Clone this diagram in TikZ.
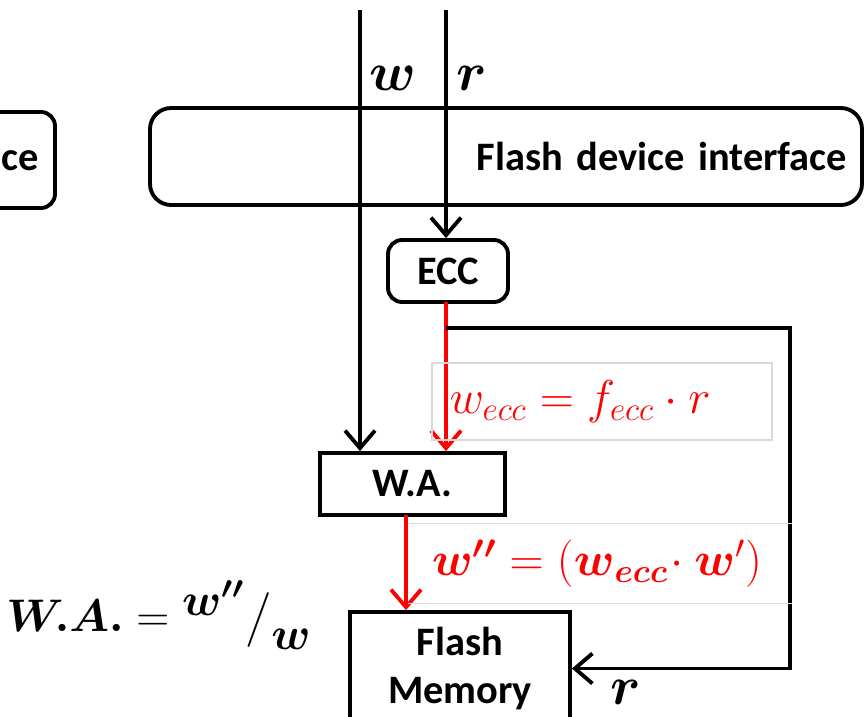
\documentclass[tikz,border=0pt]{standalone}
\usepackage{fix-cm}
\usepackage{amsmath,amssymb}
\usepackage{fontspec}
\setmainfont{Carlito}
\usepackage{tikz}
\usetikzlibrary{arrows.meta,positioning,calc}
\definecolor{ink}{HTML}{000000}
\definecolor{flow}{HTML}{FF0000}
\definecolor{frameline}{HTML}{D9D9D9}
\newcommand{\bw}{\boldsymbol{w}}

\begin{document}
\begin{tikzpicture}[line width=2.2pt,>={Straight Barb[length=3.5mm,width=6mm]},
    font=\fontsize{23}{27}\selectfont\bfseries]
  \tikzset{roundbox/.style={draw=ink,rounded corners=8pt,inner sep=0pt},
           plainbox/.style={draw=ink,inner sep=0pt,align=center},
           mathlabel/.style={font=\fontsize{31}{35}\selectfont,inner sep=0pt},
           eqlabel/.style={font=\fontsize{27}{31}\selectfont,text=flow}}
  \useasboundingbox (0,0) rectangle (17.3,-14.32);

  \draw[roundbox] (-0.8,-2.24) rectangle (1.1,-4.16);
  \node (host) at (0.4,-3.22) {ce};
  \node[roundbox,rounded corners=12pt,minimum width=14.24cm,minimum height=1.94cm,
        text width=13.64cm,align=right] (fdi) at (10.12,-3.13) {Flash device interface};
  \node[roundbox,minimum width=2.4cm,minimum height=1.24cm] (ecc) at (8.96,-5.42) {ECC};
  \node[plainbox,minimum width=3.7cm,minimum height=1.24cm] (wa) at (8.25,-9.68) {W.A.};
  \node[plainbox,minimum width=4.4cm,minimum height=2.26cm] (mem) at (9.2,-13.37)
    {Flash\\[0pt]Memory};

  \coordinate (wtop) at (7.2,-0.2);
  \coordinate (rtop) at (8.92,-0.2);
  \coordinate (eccout) at (8.92,-6.04);
  \coordinate (tap) at (8.92,-6.56);
  \coordinate (waout) at (8.12,-10.3);
  \coordinate (loop) at (15.8,-6.56);

  \node[mathlabel] (wlab) at (7.86,-1.56) {$\bw$};
  \node[mathlabel] (rlab) at (9.44,-1.56) {$\boldsymbol{r}$};

  \draw[->,draw=ink] (wtop) -- (wtop |- wa.north);
  \draw[->,draw=ink] (rtop) -- (rtop |- ecc.north);
  \draw[->,draw=flow] (eccout) -- (eccout |- wa.north);
  \draw[->,draw=ink] (tap) -- (loop) |- (mem.east);
  \draw[->,draw=flow] (waout) -- (waout |- mem.north);

  \node[eqlabel,draw=frameline,line width=0.6pt,minimum width=6.8cm,minimum height=1.54cm,
        text width=6.1cm,inner xsep=0.35cm] (eqecc) at (12.04,-8.03)
    {$w_{ecc}=f_{ecc}\cdot r$};
  \node[eqlabel,minimum width=7.6cm,minimum height=1.54cm,
        text width=6.72cm,inner xsep=0.44cm] (eqwpp) at (12.0,-11.27)
    {$\boldsymbol{w''}=(\bw_{\boldsymbol{ecc}}\!\cdot\bw')$};
  \draw[frameline,line width=0.6pt] (eqwpp.north west) -- (eqwpp.north east)
    (eqwpp.south west) -- (eqwpp.south east);

  \node[mathlabel] (rback) at (12.52,-13.84) {$\boldsymbol{r}$};
  \node[mathlabel,font=\fontsize{26}{30}\selectfont] (wafrac) at (3.18,-12.3)
    {$\boldsymbol{W.A.}={}^{\textstyle\boldsymbol{w''}}\big/_{\textstyle\bw}$};
\end{tikzpicture}
\end{document}
